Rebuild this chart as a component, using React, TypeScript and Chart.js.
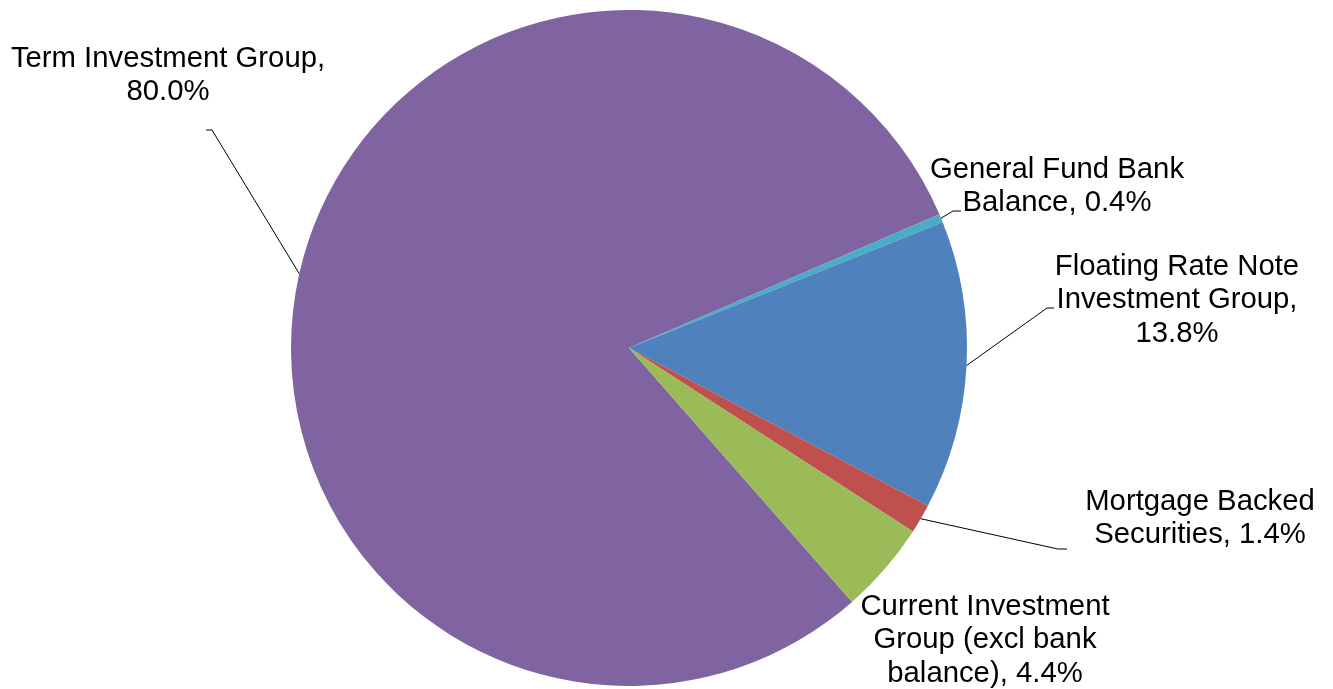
import React, { useEffect, useRef } from "react";
import { Chart, registerables } from "chart.js";

Chart.register(...registerables);

const categories = [
  "Term Investment Group",
  "General Fund Bank Balance",
  "Floating Rate Note Investment Group",
  "Mortgage Backed Securities",
  "Current Investment Group (excl bank balance)",
];
const values = [80.0, 0.4, 13.8, 1.4, 4.4];
const labelLines = [
  ["Term Investment Group,", "80.0%"],
  ["General Fund Bank", "Balance, 0.4%"],
  ["Floating Rate Note", "Investment Group,", "13.8%"],
  ["Mortgage Backed", "Securities, 1.4%"],
  ["Current Investment", "Group (excl bank", "balance), 4.4%"],
];
const colors = ["#8064A2", "#4BACC6", "#4F81BD", "#C0504D", "#9BBB59"];

// label layout (pixel positions of text centre, and leader elbow/end points)
const labelLayout = [
  { cx: 168, cy: 58.5, elbow: [212, 130], end: [206, 130] },
  { cx: 1057, cy: 169.5, elbow: [953, 211], end: [961, 211] },
  { cx: 1177, cy: 266.5, elbow: [1047, 308], end: [1054, 308] },
  { cx: 1200, cy: 501.5, elbow: [1058, 549], end: [1067, 549] },
  { cx: 985, cy: 606.5, elbow: null, end: null },
];

const labelPlugin = {
  id: "pieLabels",
  afterDraw(chart: any) {
    const ctx = chart.ctx;
    const meta = chart.getDatasetMeta(0);
    ctx.save();
    ctx.font = '29.3px "Liberation Sans", Arial, sans-serif';
    ctx.fillStyle = "#000";
    ctx.textAlign = "center";
    ctx.textBaseline = "middle";
    meta.data.forEach((arc: any, i: number) => {
      const lay = labelLayout[i];
      const lines = labelLines[i];
      lines.forEach((ln: string, j: number) => {
        ctx.fillText(ln, lay.cx, lay.cy + j * 33.7);
      });
      if (lay.elbow && lay.end) {
        const p = arc.getProps(["x", "y", "startAngle", "endAngle", "outerRadius"], true);
        const mid = (p.startAngle + p.endAngle) / 2;
        const sx = p.x + Math.cos(mid) * p.outerRadius;
        const sy = p.y + Math.sin(mid) * p.outerRadius;
        ctx.beginPath();
        ctx.strokeStyle = "#000";
        ctx.lineWidth = 1;
        ctx.moveTo(sx, sy);
        ctx.lineTo(lay.elbow[0], lay.elbow[1]);
        ctx.lineTo(lay.end[0], lay.end[1]);
        ctx.stroke();
      }
    });
    ctx.restore();
  },
};

export default function App() {
  const ref = useRef<HTMLCanvasElement>(null);
  useEffect(() => {
    if (!ref.current) return;
    const chart = new Chart(ref.current, {
      type: "pie",
      data: {
        labels: categories,
        datasets: [
          {
            data: values,
            backgroundColor: colors,
            borderWidth: 0,
          },
        ],
      },
      options: {
        animation: false,
        responsive: false,
        rotation: 138.7,
        layout: { padding: { left: 0, right: 75, top: 10, bottom: 3 } },
        plugins: {
          legend: { display: false },
          tooltip: { enabled: false },
          title: { display: false },
        },
      },
      plugins: [labelPlugin],
    });
    return () => chart.destroy();
  }, []);
  return (
    <div style={{ position: "absolute", left: 0, top: 0, width: 1333, height: 689, background: "#fff" }}>
      <canvas ref={ref} width={1333} height={689} />
    </div>
  );
}
